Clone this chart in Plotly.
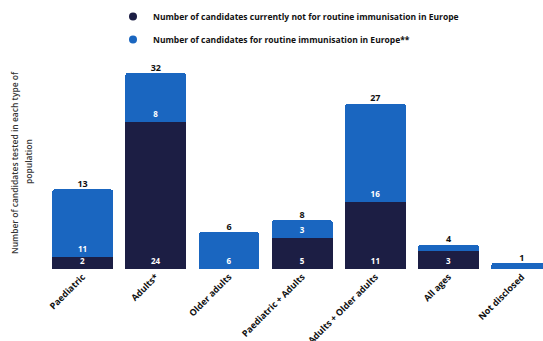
import plotly.graph_objects as go

# Candidate counts by population tested
categories = ["Paediatric", "Adults*", "Older adults", "Paediatric + Adults",
              "Adults + Older adults", "All ages", "Not disclosed"]
not_routine = [2, 24, 0, 5, 11, 3, 0]
routine = [11, 8, 6, 3, 16, 1, 1]

name_not_routine = "Number of candidates currently not for routine immunisation in Europe"
name_routine = "Number of candidates for routine immunisation in Europe**"

DARK = "#1c1e44"
BLUE = "#1a66c0"
FONT = "Open Sans"

totals = [a + b for a, b in zip(not_routine, routine)]
# Segment labels only where the segment is tall enough to hold them
dark_text = [str(v) if v >= 2 else "" for v in not_routine]
blue_text = [str(v) if v >= 2 else "" for v in routine]

fig = go.Figure()

for vals, labels, col in [(not_routine, dark_text, DARK), (routine, blue_text, BLUE)]:
    fig.add_trace(go.Bar(
        x=categories, y=vals, marker=dict(color=col, line=dict(width=0)), text=labels,
        textposition="inside", insidetextanchor="start", textangle=0,
        insidetextfont=dict(color="white", size=8, family=FONT, weight="bold"),
        showlegend=False, hoverinfo="skip",
    ))

# Stack totals above each bar
fig.add_trace(go.Scatter(
    x=categories, y=totals, mode="text", text=[str(t) for t in totals],
    textposition="top center", cliponaxis=False,
    textfont=dict(color="#111111", size=9, family=FONT, weight="bold"),
    showlegend=False, hoverinfo="skip",
))

# Circle legend entries
for nm, col, grp in [(name_not_routine, DARK, "a"), (name_routine, BLUE, "b")]:
    fig.add_trace(go.Scatter(
        x=[None], y=[None], mode="markers", name=nm, legendgroup=grp,
        marker=dict(color=col, size=8, symbol="circle"),
    ))

title_font = dict(size=8.5, family=FONT, weight=600, color="#333333")

fig.update_layout(
    width=543, height=341,
    margin=dict(l=46, r=0, t=24, b=72),
    barmode="stack", bargap=0.167, barcornerradius=3,
    uniformtext=dict(minsize=8, mode="show"),
    plot_bgcolor="white", paper_bgcolor="white",
    font=dict(family=FONT, color="#222222"),
    xaxis=dict(range=[-0.5, 6.29], tickangle=-45, showline=False, showgrid=False,
               ticks="", automargin=False,
               tickfont=dict(size=9, family=FONT, weight="bold", color="#111111")),
    yaxis=dict(range=[0, 40], visible=False, automargin=False),
    legend=dict(x=(133 - 20 - 46) / 497, xanchor="left", y=1.09, yanchor="top",
                font=dict(size=8.5, family=FONT, weight="bold", color="#111111"),
                tracegroupgap=4, bgcolor="rgba(0,0,0,0)"),
    annotations=[
        dict(text="Number of candidates tested in each type of",
             xref="paper", yref="paper", x=(15 - 46) / 497, y=(269 - 163) / 245,
             xanchor="center", yanchor="middle", textangle=-90, showarrow=False,
             font=title_font),
        dict(text="population",
             xref="paper", yref="paper", x=(28 - 46) / 497, y=(269 - 162) / 245,
             xanchor="center", yanchor="middle", textangle=-90, showarrow=False,
             font=title_font),
    ],
)

fig.write_html("out.html")
